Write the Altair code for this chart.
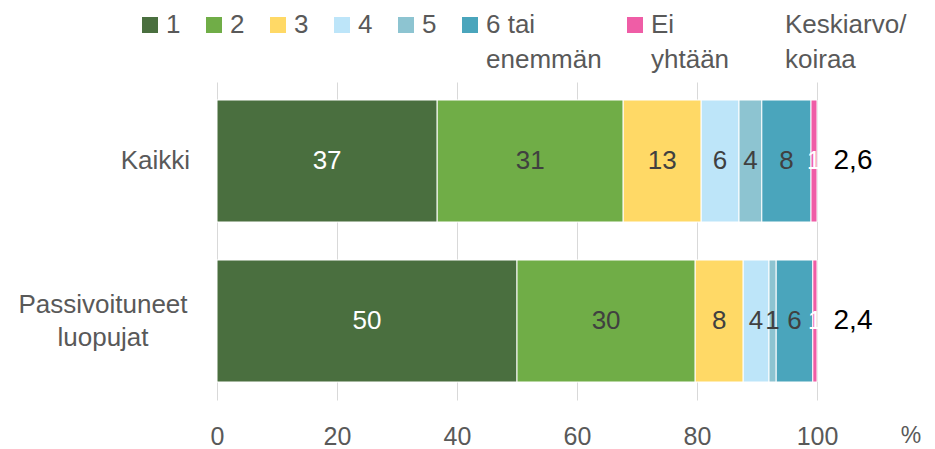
import altair as alt
import pandas as pd

groups = ["Kaikki", "Passivoituneet luopujat"]
categories = ["1", "2", "3", "4", "5", "6 tai enemmän", "Ei yhtään"]
kaikki = [36.7, 31.0, 13.0, 6.3, 3.8, 8.2, 1.0]
passivoituneet = [50.0, 29.7, 8.0, 4.3, 1.2, 6.1, 0.7]
means = [2.6, 2.4]
colors = ["#4A6F3F", "#70AD47", "#FFD966", "#BDE5F9", "#8DC4D1", "#4AA5BC", "#EF5DA6"]
x_ticks = [0, 20, 40, 60, 80, 100]
mean_header = "Keskiarvo/\nkoiraa"
unit = "%"

FONT = "Liberation Sans"
GREY = "#595959"

rows = []
for g, vals in zip(groups, [kaikki, passivoituneet]):
    cum = 0.0
    for c, v in zip(categories, vals):
        rows.append({"group": g, "cat": c, "start": cum, "end": cum + v,
                     "mid": cum + v / 2, "label": str(int(round(v)))})
        cum += v
df = pd.DataFrame(rows)

mean_df = pd.DataFrame({"group": groups,
                        "txt": [f"{m:.1f}".replace(".", ",") for m in means]})
lab1 = pd.DataFrame({"group": [groups[0]], "txt": [groups[0]]})
lab2 = pd.DataFrame({"group": [groups[1]], "txt": [groups[1].replace(" ", "\n")]})
header_df = pd.DataFrame({"txt": [mean_header]})
unit_df = pd.DataFrame({"txt": [unit]})

yscale = alt.Scale(domain=groups, paddingInner=0.2375, paddingOuter=0.1125)
Y = alt.Y("group:N", scale=yscale, axis=None)

legend = alt.Legend(
    orient="none", legendX=-80, legendY=-70, direction="horizontal",
    title=None, padding=0, columnPadding=20, symbolType="square",
    symbolSize=256, symbolStrokeWidth=0, labelFontSize=26, labelColor=GREY,
    labelFont=FONT, labelOffset=3, labelLimit=0,
    labelExpr="datum.label == '6 tai enemmän' ? ['6 tai', 'enemmän'] : datum.label == 'Ei yhtään' ? ['Ei', 'yhtään'] : [datum.label, ' ']",
)

bars = alt.Chart(df).mark_bar(stroke="white", strokeWidth=1).encode(
    x=alt.X("start:Q", scale=alt.Scale(domain=[0, 100], nice=False),
            axis=alt.Axis(values=x_ticks, grid=True, gridColor="#D9D9D9",
                          domain=False, ticks=False, labelFontSize=25,
                          labelColor=GREY, labelFont=FONT, labelPadding=24,
                          labelFlush=False, title=None)),
    x2="end:Q",
    y=Y,
    color=alt.Color("cat:N", scale=alt.Scale(domain=categories, range=colors),
                    legend=legend),
)

vals = alt.Chart(df).mark_text(fontSize=26, font=FONT, baseline="middle").encode(
    x="mid:Q",
    y=Y,
    text="label:N",
    color=alt.condition("datum.cat == '1' || datum.cat == 'Ei yhtään'",
                        alt.value("white"), alt.value("#404040")),
)

mean_txt = alt.Chart(mean_df).mark_text(fontSize=28, font=FONT, color="black",
                                         align="center", baseline="middle").encode(
    x=alt.value(636), y=Y, text="txt:N")

cat1 = alt.Chart(lab1).mark_text(fontSize=26, font=FONT, color=GREY,
                                  align="right", baseline="middle").encode(
    x=alt.value(-27), y=Y, text="txt:N")

cat2 = alt.Chart(lab2).mark_text(fontSize=26, font=FONT, color=GREY,
                                  align="center", baseline="middle",
                                  lineBreak="\n", lineHeight=33, dy=-16).encode(
    x=alt.value(-114), y=Y, text="txt:N")

header = alt.Chart(header_df).mark_text(fontSize=26, font=FONT, color=GREY,
                                         align="left", baseline="middle",
                                         lineBreak="\n", lineHeight=35).encode(
    x=alt.value(568), y=alt.value(-57), text="txt:N")

unit_txt = alt.Chart(unit_df).mark_text(fontSize=23, font=FONT, color=GREY,
                                         align="center", baseline="middle").encode(
    x=alt.value(694), y=alt.value(354), text="txt:N")

chart = alt.layer(bars, vals, mean_txt, cat1, cat2, header, unit_txt).properties(
    width=600, height=318,
    padding={"left": 209, "top": 74, "right": 110, "bottom": 49},
    autosize=alt.AutoSizeParams(type="none"),
).configure(
    font=FONT, style={"guide-label": {"lineHeight": 35}}
).configure_view(stroke=None)

chart.save("out.html", embed_options={"renderer": "svg", "actions": False})
